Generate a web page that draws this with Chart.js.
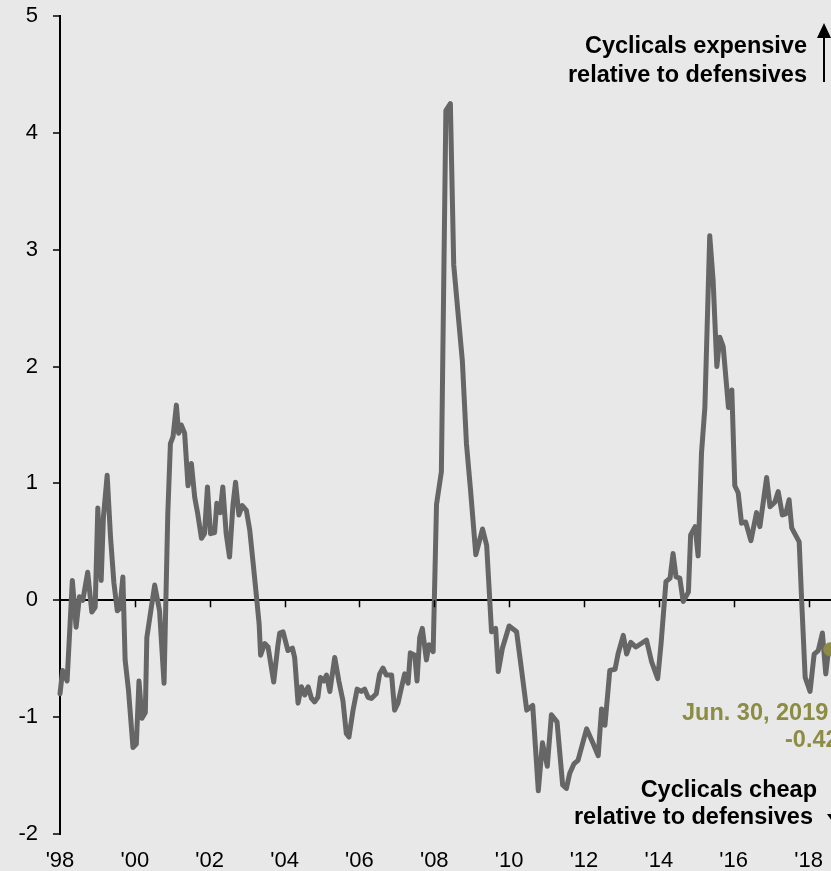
<!DOCTYPE html>
<html>
<head>
<meta charset="utf-8">
<script src="https://cdn.jsdelivr.net/npm/chart.js@4.4.1/dist/chart.umd.min.js"></script>
<style>
  html, body { margin: 0; padding: 0; background: #e8e8e8; overflow: hidden; }
  canvas { display: block; }
</style>
</head>
<body>
<canvas id="valuation" width="831" height="871"></canvas>
<script>
// decimal dates of each reading
const dates = [
    1998.00, 1998.07, 1998.19, 1998.33, 1998.43, 1998.52, 1998.61, 1998.74, 1998.85, 1998.94,
    1999.01, 1999.10, 1999.16, 1999.26, 1999.35, 1999.44, 1999.53, 1999.60, 1999.68, 1999.74,
    1999.83, 1999.95, 2000.04, 2000.11, 2000.19, 2000.28, 2000.32, 2000.44, 2000.53, 2000.66,
    2000.78, 2000.88, 2000.95, 2001.02, 2001.11, 2001.17, 2001.24, 2001.33, 2001.42, 2001.51,
    2001.60, 2001.68, 2001.78, 2001.86, 2001.94, 2002.02, 2002.13, 2002.19, 2002.28, 2002.35,
    2002.44, 2002.53, 2002.62, 2002.69, 2002.78, 2002.87, 2002.98, 2003.07, 2003.16, 2003.25,
    2003.32, 2003.36, 2003.47, 2003.56, 2003.71, 2003.82, 2003.87, 2003.96, 2004.09, 2004.21,
    2004.27, 2004.36, 2004.45, 2004.54, 2004.63, 2004.72, 2004.80, 2004.89, 2004.96, 2005.05,
    2005.12, 2005.21, 2005.34, 2005.45, 2005.56, 2005.65, 2005.72, 2005.83, 2005.94, 2006.05,
    2006.14, 2006.23, 2006.32, 2006.45, 2006.54, 2006.63, 2006.72, 2006.86, 2006.94, 2007.03,
    2007.15, 2007.21, 2007.30, 2007.36, 2007.48, 2007.54, 2007.61, 2007.68, 2007.79, 2007.86,
    2007.97, 2008.06, 2008.19, 2008.31, 2008.43, 2008.52, 2008.64, 2008.75, 2008.86, 2008.97,
    2009.11, 2009.29, 2009.40, 2009.53, 2009.64, 2009.71, 2009.82, 2010.00, 2010.20, 2010.33,
    2010.47, 2010.63, 2010.78, 2010.89, 2011.02, 2011.13, 2011.28, 2011.43, 2011.53, 2011.62,
    2011.73, 2011.84, 2012.07, 2012.25, 2012.38, 2012.47, 2012.56, 2012.69, 2012.83, 2012.91,
    2013.05, 2013.14, 2013.25, 2013.39, 2013.67, 2013.81, 2013.97, 2014.06, 2014.19, 2014.30,
    2014.38, 2014.46, 2014.56, 2014.65, 2014.79, 2014.85, 2014.97, 2015.05, 2015.14, 2015.23,
    2015.36, 2015.45, 2015.55, 2015.63, 2015.72, 2015.86, 2015.95, 2016.03, 2016.12, 2016.21,
    2016.32, 2016.46, 2016.61, 2016.70, 2016.88, 2016.97, 2017.10, 2017.19, 2017.30, 2017.39,
    2017.48, 2017.55, 2017.75, 2017.82, 2017.91, 2018.04, 2018.15, 2018.26, 2018.37, 2018.46,
    2018.53, 2018.58
];

// relative valuation z-score at each date
const values = [
    -0.80, -0.60, -0.69, 0.17, -0.23, 0.03, 0.00, 0.24, -0.10, -0.06,
    0.79, 0.17, 0.71, 1.07, 0.54, 0.15, -0.09, -0.07, 0.20, -0.51,
    -0.77, -1.26, -1.23, -0.69, -1.01, -0.96, -0.32, -0.06, 0.13, -0.09,
    -0.71, 0.74, 1.34, 1.40, 1.67, 1.43, 1.50, 1.43, 0.98, 1.17,
    0.88, 0.74, 0.53, 0.57, 0.97, 0.57, 0.58, 0.83, 0.75, 0.97,
    0.57, 0.37, 0.81, 1.01, 0.73, 0.81, 0.77, 0.60, 0.32, 0.03,
    -0.20, -0.47, -0.37, -0.40, -0.70, -0.39, -0.28, -0.27, -0.43, -0.41,
    -0.49, -0.88, -0.74, -0.81, -0.74, -0.84, -0.87, -0.83, -0.66, -0.69,
    -0.64, -0.78, -0.49, -0.69, -0.86, -1.14, -1.17, -0.94, -0.76, -0.78,
    -0.76, -0.83, -0.84, -0.80, -0.63, -0.58, -0.64, -0.64, -0.94, -0.88,
    -0.71, -0.63, -0.71, -0.45, -0.47, -0.69, -0.32, -0.24, -0.51, -0.38,
    -0.44, 0.82, 1.10, 4.19, 4.25, 2.87, 2.44, 2.05, 1.34, 0.94,
    0.39, 0.61, 0.47, -0.27, -0.24, -0.61, -0.41, -0.22, -0.27, -0.59,
    -0.94, -0.90, -1.63, -1.22, -1.42, -0.98, -1.04, -1.58, -1.61, -1.48,
    -1.40, -1.37, -1.10, -1.23, -1.33, -0.93, -1.07, -0.60, -0.59, -0.46,
    -0.30, -0.46, -0.36, -0.40, -0.34, -0.53, -0.67, -0.37, 0.16, 0.19,
    0.40, 0.20, 0.19, -0.01, 0.07, 0.56, 0.63, 0.38, 1.26, 1.65,
    3.12, 2.74, 2.00, 2.25, 2.17, 1.65, 1.80, 0.98, 0.92, 0.66,
    0.67, 0.51, 0.75, 0.63, 1.05, 0.80, 0.84, 0.93, 0.73, 0.74,
    0.86, 0.62, 0.50, -0.03, -0.66, -0.78, -0.46, -0.43, -0.28, -0.63,
    -0.43, -0.42
];

const tickYears = [1998, 2000, 2002, 2004, 2006, 2008, 2010, 2012, 2014, 2016, 2018];
const tickLabels = ["'98", "'00", "'02", "'04", "'06", "'08", "'10", "'12", "'14", "'16", "'18"];

const latestLabel = "Jun. 30, 2019";
const latestText = "-0.42";

const LINE_GREY = "#666666";
const OLIVE = "#8c8c45";
const BG = "#e8e8e8";

const points = dates.map(function (d, i) { return { x: d, y: values[i] }; });
const lastIdx = points.length - 1;

// background + zero-line ticks + annotations
const decorations = {
    id: 'decorations',
    beforeDraw: function (chart) {
        const ctx = chart.ctx;
        ctx.save();
        ctx.fillStyle = BG;
        ctx.fillRect(0, 0, chart.width, chart.height);
        ctx.restore();
    },
    afterDatasetsDraw: function (chart) {
        const ctx = chart.ctx;
        const x = chart.scales.x;
        const y = chart.scales.y;
        const y0 = y.getPixelForValue(0);

        ctx.save();
        ctx.strokeStyle = '#000';
        ctx.lineWidth = 1.5;
        tickYears.forEach(function (t, i) {
            if (i === 0) return;
            const px = Math.round(x.getPixelForValue(t)) + 0.5;
            ctx.beginPath();
            ctx.moveTo(px, y0);
            ctx.lineTo(px, y0 + 7);
            ctx.stroke();
        });

        ctx.font = 'bold 23.5px "Liberation Sans", Arial, sans-serif';
        ctx.textBaseline = 'alphabetic';
        ctx.fillStyle = '#000';
        ctx.textAlign = 'right';
        ctx.fillText('Cyclicals expensive', 807, 53);
        ctx.fillText('relative to defensives', 807, 82);
        ctx.fillText('Cyclicals cheap', 817, 797);
        ctx.fillText('relative to defensives', 813, 824);

        // up arrow
        ctx.lineWidth = 2;
        ctx.beginPath();
        ctx.moveTo(824, 82);
        ctx.lineTo(824, 34);
        ctx.stroke();
        ctx.beginPath();
        ctx.moveTo(824, 23);
        ctx.lineTo(817, 38);
        ctx.lineTo(831, 38);
        ctx.closePath();
        ctx.fill();

        // down arrow, mostly off the edge
        ctx.beginPath();
        ctx.moveTo(834, 824);
        ctx.lineTo(827, 814);
        ctx.lineTo(841, 814);
        ctx.closePath();
        ctx.fill();

        ctx.fillStyle = OLIVE;
        ctx.textAlign = 'left';
        ctx.fillText(latestLabel, 682, 720);
        ctx.fillText(latestText, 785, 747);
        ctx.restore();
    }
};

window.onload = function () {
    const ctx = document.getElementById('valuation');
    new Chart(ctx, {
        type: 'line',
        data: {
            datasets: [{
                data: points,
                order: 1,
                borderColor: LINE_GREY,
                borderWidth: 5,
                borderJoinStyle: 'round',
                borderCapStyle: 'round',
                pointRadius: 0,
                tension: 0,
                clip: false
            }, {
                data: [points[lastIdx]],
                order: 0,
                showLine: false,
                pointRadius: 7,
                pointBackgroundColor: OLIVE,
                pointBorderWidth: 0,
                clip: false
            }]
        },
        options: {
            responsive: false,
            animation: false,
            events: [],
            layout: { autoPadding: false, padding: { top: 16, left: 0, right: 0, bottom: 0 } },
            plugins: {
                legend: { display: false },
                tooltip: { enabled: false }
            },
            scales: {
                x: {
                    type: 'linear',
                    min: 1998,
                    max: 2018.6,
                    afterBuildTicks: function (scale) {
                        scale.ticks = tickYears.map(function (v) { return { value: v }; });
                    },
                    afterFit: function (scale) {
                        scale.height = 37;
                        scale.paddingLeft = 0;
                        scale.paddingRight = 0;
                    },
                    grid: { display: false, drawTicks: false },
                    border: { display: false },
                    ticks: {
                        autoSkip: false,
                        maxRotation: 0,
                        padding: 14,
                        color: '#000',
                        font: { family: '"Liberation Sans", Arial, sans-serif', size: 22 },
                        callback: function (v, i) { return tickLabels[i]; }
                    }
                },
                y: {
                    min: -2,
                    max: 5,
                    afterFit: function (scale) {
                        scale.width = 60;
                        scale.paddingTop = 0;
                        scale.paddingBottom = 0;
                    },
                    grid: {
                        drawOnChartArea: true,
                        color: function (c) { return c.tick && c.tick.value === 0 ? '#000' : 'rgba(0,0,0,0)'; },
                        lineWidth: 2,
                        tickColor: '#000',
                        tickWidth: 1.5,
                        tickLength: 7
                    },
                    border: { display: true, color: '#000', width: 2 },
                    ticks: {
                        stepSize: 1,
                        padding: 15,
                        color: '#000',
                        font: { family: '"Liberation Sans", Arial, sans-serif', size: 22 }
                    }
                }
            }
        },
        plugins: [decorations]
    });
};
</script>
</body>
</html>
